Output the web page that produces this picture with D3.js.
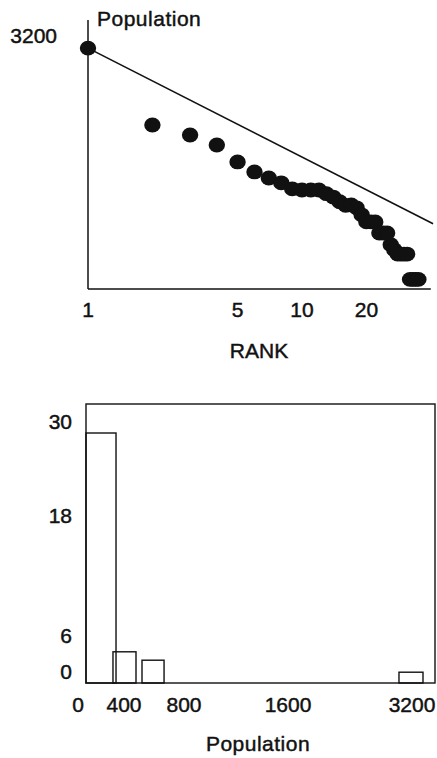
<!DOCTYPE html>
<html>
<head>
<meta charset="utf-8">
<script src="https://cdn.jsdelivr.net/npm/d3@7"></script>
<style>
  html, body { margin: 0; padding: 0; background: #fff; }
  svg { display: block; }
  text { font-family: "Liberation Sans", Arial, Helvetica, sans-serif; fill: #111; stroke: #111; stroke-width: 0.45px; }
</style>
</head>
<body>
<script>
const W = 437, H = 758;

// --- rank-size plot (log-log) ---
const RANKS = [1, 2, 3, 4, 5, 6, 7, 8, 9, 10, 11, 12, 13, 14, 15, 16, 17, 18,
  19, 20, 21, 22, 23, 24, 25, 26, 27, 28, 29, 30, 31, 32, 33, 34, 35];
const POPS = [3200, 629, 509, 412, 288, 233, 205, 185, 163, 159, 159, 159, 147, 137, 124, 115, 116, 109,
  94, 81, 81, 81, 64, 64, 64, 50, 45, 41, 41, 41, 41, 24, 24, 24, 24];
// rank-size rule reference line P = P1 / r, end points
const RULE_RANKS = [1, 41];
const RULE_POPS = [3200, 78];
const RANK_TICKS = [1, 5, 10, 20];
const POP_TICKS_TOP = [3200];

// --- histogram ---
const BIN_X0 = [0, 284, 520, 3032];
const BIN_X1 = [316, 480, 667, 3342];
const BIN_COUNT = [30, 5.2, 3.8, 1.8];
const HIST_X_TICKS = [0, 400, 800, 1600, 3200];
const HIST_Y_TICKS = [0, 6, 18, 30];

const FONT = 21;
const ink = '#111';

const svg = d3.select('body').append('svg')
  .attr('width', W).attr('height', H)
  .attr('viewBox', `0 0 ${W} ${H}`);

// ---------- top chart ----------
const xTop = d3.scaleLog().domain([1, 40]).range([88, 430.8]);
const yTop = d3.scaleLog().domain([20, 5800]).range([288, 20]);

const rankG = svg.append('g');

// axes as plain lines (no tick marks in the figure)
rankG.append('line')
  .attr('x1', xTop(1)).attr('x2', xTop(1))
  .attr('y1', yTop(5800)).attr('y2', yTop(20) + 1)
  .attr('stroke', ink).attr('stroke-width', 1.5);
rankG.append('line')
  .attr('x1', xTop(1)).attr('x2', xTop(40))
  .attr('y1', yTop(20) + 1).attr('y2', yTop(20) + 1)
  .attr('stroke', ink).attr('stroke-width', 1.5);

// rank-size rule line
const rule = RULE_RANKS.map((r, i) => [r, RULE_POPS[i]]);
rankG.append('path')
  .attr('d', d3.line().x(d => xTop(d[0])).y(d => yTop(d[1]))(rule))
  .attr('fill', 'none')
  .attr('stroke', ink)
  .attr('stroke-width', 1.6);

// settlements
rankG.append('g').selectAll('ellipse')
  .data(RANKS.map((r, i) => ({ r, p: POPS[i] })))
  .join('ellipse')
  .attr('cx', d => xTop(d.r))
  .attr('cy', d => yTop(d.p))
  .attr('rx', 8.2).attr('ry', 7.4)
  .attr('fill', ink);

// labels
rankG.selectAll('.xt')
  .data(RANK_TICKS)
  .join('text')
  .attr('class', 'xt')
  .attr('x', d => xTop(d))
  .attr('y', 317)
  .attr('text-anchor', 'middle')
  .attr('font-size', FONT)
  .text(d => d);

rankG.selectAll('.yt')
  .data(POP_TICKS_TOP)
  .join('text')
  .attr('class', 'yt')
  .attr('x', 57)
  .attr('y', d => yTop(d) - 5)
  .attr('text-anchor', 'end')
  .attr('font-size', FONT)
  .text(d => d);

rankG.append('text')
  .attr('x', 97).attr('y', 26)
  .attr('font-size', FONT)
  .attr('letter-spacing', 0.5)
  .text('Population');

rankG.append('text')
  .attr('x', 259).attr('y', 358)
  .attr('text-anchor', 'middle')
  .attr('font-size', FONT)
  .text('RANK');

// ---------- histogram ----------
// the printed axis is not evenly spaced, so the scales are piecewise
const xH = d3.scaleLinear()
  .domain([0, 400, 800, 1600, 3200, 3510])
  .range([86, 124, 184, 288, 412, 436]);
const yH = d3.scaleLinear()
  .domain([0, 6, 18, 30, 33.7])
  .range([683, 647, 527, 433, 404]);

const hist = svg.append('g');

hist.append('rect')
  .attr('x', xH(0)).attr('y', yH(33.7))
  .attr('width', xH(3510) - xH(0) - 1)
  .attr('height', yH(0) - yH(33.7))
  .attr('fill', 'none')
  .attr('stroke', ink)
  .attr('stroke-width', 1.4);

hist.append('g').selectAll('rect')
  .data(BIN_COUNT.map((c, i) => ({ x0: BIN_X0[i], x1: BIN_X1[i], c })))
  .join('rect')
  .attr('x', d => xH(d.x0))
  .attr('y', d => yH(d.c))
  .attr('width', d => xH(d.x1) - xH(d.x0))
  .attr('height', d => yH(0) - yH(d.c))
  .attr('fill', 'none')
  .attr('stroke', ink)
  .attr('stroke-width', 1.4);

hist.selectAll('.hy')
  .data(HIST_Y_TICKS)
  .join('text')
  .attr('class', 'hy')
  .attr('x', 72)
  .attr('y', d => yH(d) - 4)
  .attr('text-anchor', 'end')
  .attr('font-size', FONT)
  .text(d => d);

hist.selectAll('.hx')
  .data(HIST_X_TICKS)
  .join('text')
  .attr('class', 'hx')
  .attr('x', d => d === 0 ? xH(d) - 8 : xH(d))
  .attr('y', 712)
  .attr('text-anchor', 'middle')
  .attr('font-size', FONT)
  .text(d => d);

hist.append('text')
  .attr('x', 258).attr('y', 751)
  .attr('text-anchor', 'middle')
  .attr('font-size', FONT)
  .attr('letter-spacing', 0.5)
  .text('Population');
</script>
</body>
</html>
